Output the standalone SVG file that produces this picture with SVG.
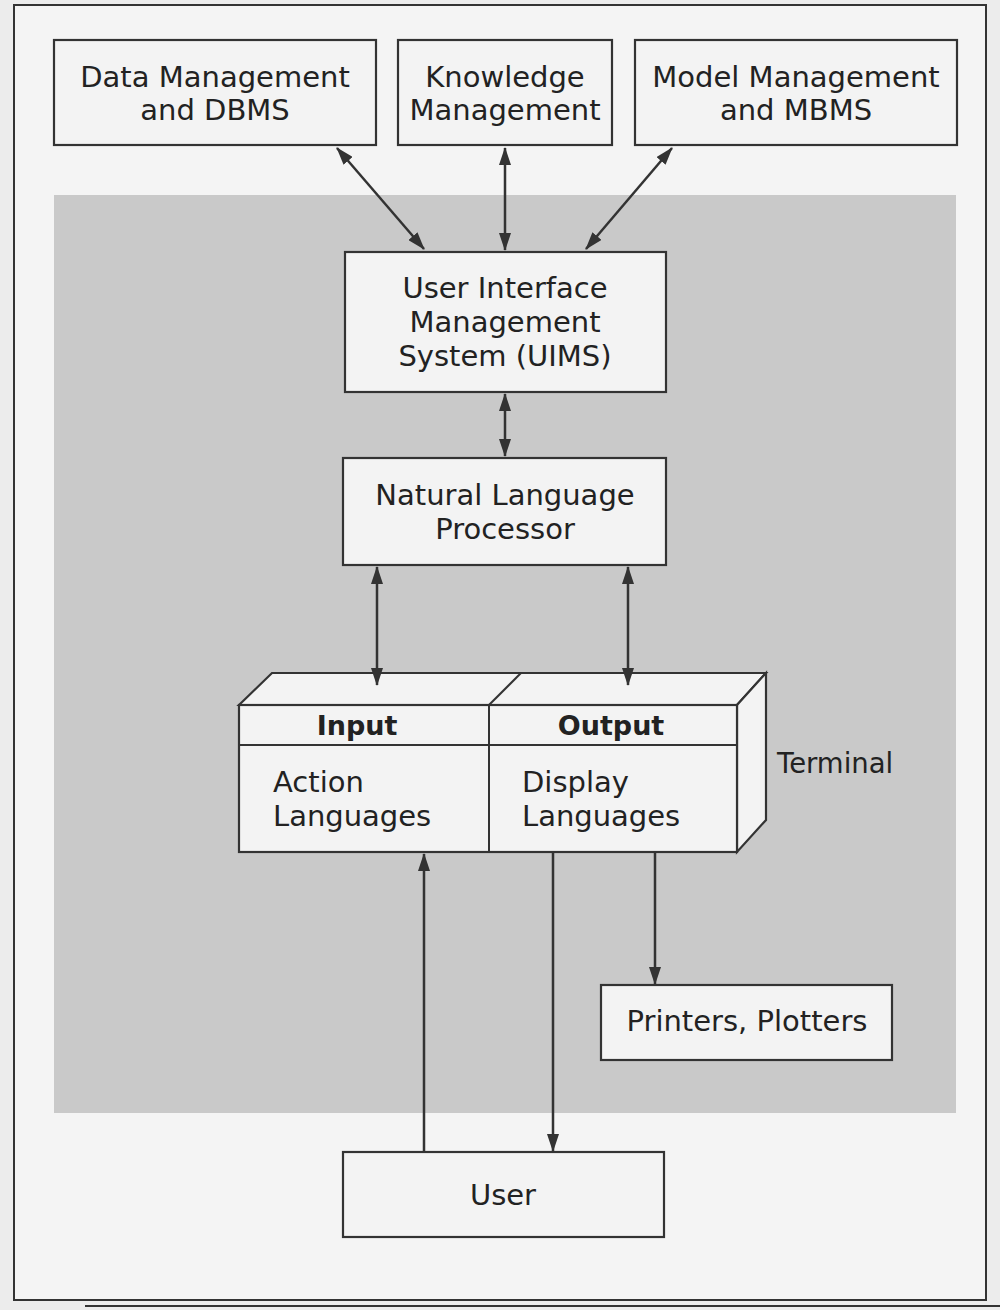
<svg xmlns="http://www.w3.org/2000/svg" width="1000" height="1310" viewBox="0 0 1000 1310">
<style>
.bx{fill:#f3f3f3;stroke:#333;stroke-width:2.2}
.t{font-family:"DejaVu Sans",sans-serif;font-size:29px;fill:#222}
.tc{text-anchor:middle}
.b{font-weight:bold;font-size:27px}
.cn{stroke:#333;stroke-width:2.5;fill:none}
</style>
<defs>
<marker id="ah" markerUnits="userSpaceOnUse" markerWidth="18" markerHeight="12" refX="17" refY="6" orient="auto-start-reverse">
<path d="M0,0 L18,6 L0,12 Z" fill="#333"/>
</marker>
</defs>
<rect x="0" y="0" width="1000" height="1310" fill="#ececec"/>
<rect x="14" y="5" width="972" height="1295" fill="#f4f4f4" stroke="#333" stroke-width="2"/>
<rect x="54" y="195" width="902" height="918" fill="#c9c9c9"/>
<line x1="85" y1="1306" x2="1000" y2="1306" stroke="#333" stroke-width="2"/>

<g id="data-management">
<rect class="bx" x="54" y="40" width="322" height="105"/>
<text class="t tc" x="215" y="87">Data Management</text>
<text class="t tc" x="215" y="120">and DBMS</text>
</g>
<g id="knowledge-management">
<rect class="bx" x="398" y="40" width="214" height="105"/>
<text class="t tc" x="505" y="87">Knowledge</text>
<text class="t tc" x="505" y="120">Management</text>
</g>
<g id="model-management">
<rect class="bx" x="635" y="40" width="322" height="105"/>
<text class="t tc" x="796" y="87">Model Management</text>
<text class="t tc" x="796" y="120">and MBMS</text>
</g>
<g id="uims">
<rect class="bx" x="345" y="252" width="321" height="140"/>
<text class="t tc" x="505" y="298">User Interface</text>
<text class="t tc" x="505" y="332">Management</text>
<text class="t tc" x="505" y="366">System (UIMS)</text>
</g>
<g id="nlp">
<rect class="bx" x="343" y="458" width="323" height="107"/>
<text class="t tc" x="505" y="505">Natural Language</text>
<text class="t tc" x="505" y="539">Processor</text>
</g>
<g id="terminal">
<path class="bx" d="M239,705 L272,673 L766,673 L737,705 Z"/>
<path class="bx" d="M737,705 L766,673 L766,820 L737,852 Z"/>
<rect class="bx" x="239" y="705" width="498" height="147"/>
<line x1="489" y1="705" x2="521" y2="673" stroke="#333" stroke-width="2"/>
<line x1="239" y1="745" x2="737" y2="745" stroke="#333" stroke-width="2"/>
<line x1="489" y1="705" x2="489" y2="852" stroke="#333" stroke-width="2"/>
<text class="t tc b" x="357" y="735">Input</text>
<text class="t tc b" x="611" y="735">Output</text>
<text class="t" x="273" y="792">Action</text>
<text class="t" x="273" y="826">Languages</text>
<text class="t" x="522" y="792">Display</text>
<text class="t" x="522" y="826">Languages</text>
<text class="t" x="777" y="773" style="font-size:27.5px">Terminal</text>
</g>
<g id="printers">
<rect class="bx" x="601" y="985" width="291" height="75"/>
<text class="t tc" x="747" y="1031">Printers, Plotters</text>
</g>
<g id="user">
<rect class="bx" x="343" y="1152" width="321" height="85"/>
<text class="t tc" x="503" y="1205">User</text>
</g>

<g id="connectors">
<line class="cn" x1="337" y1="148" x2="424" y2="249" marker-start="url(#ah)" marker-end="url(#ah)"/>
<line class="cn" x1="505" y1="148" x2="505" y2="250" marker-start="url(#ah)" marker-end="url(#ah)"/>
<line class="cn" x1="672" y1="148" x2="586" y2="249" marker-start="url(#ah)" marker-end="url(#ah)"/>
<line class="cn" x1="505" y1="394" x2="505" y2="456" marker-start="url(#ah)" marker-end="url(#ah)"/>
<line class="cn" x1="377" y1="567" x2="377" y2="685" marker-start="url(#ah)" marker-end="url(#ah)"/>
<line class="cn" x1="628" y1="567" x2="628" y2="685" marker-start="url(#ah)" marker-end="url(#ah)"/>
<line class="cn" x1="424" y1="1152" x2="424" y2="854" marker-end="url(#ah)"/>
<line class="cn" x1="553" y1="852" x2="553" y2="1151" marker-end="url(#ah)"/>
<line class="cn" x1="655" y1="852" x2="655" y2="984" marker-end="url(#ah)"/>
</g>
</svg>
